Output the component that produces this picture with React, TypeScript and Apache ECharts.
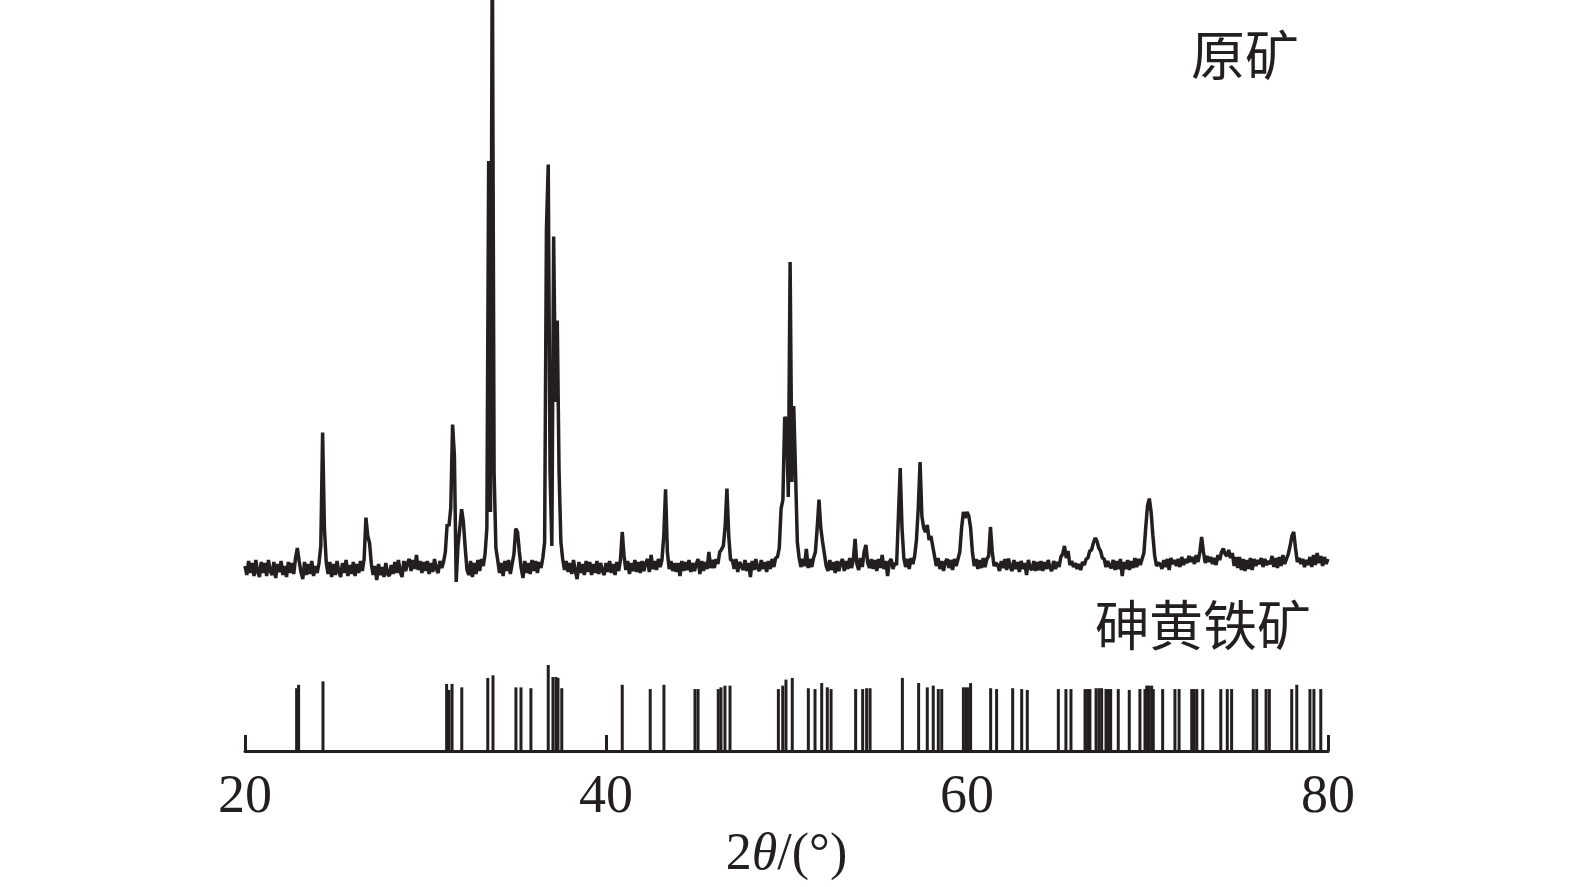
import React, { useEffect, useRef } from "react";
import * as echarts from "echarts";

const INK = "#231f20";

// Measured pattern (原矿), intensity in a.u., sampled every 0.1° from 20.0° to 80.0°
const START_2THETA = 20;
const STEP_2THETA = 0.1;
const sampleIntensity: number[] = [
  230, 185, 255, 195, 245, 180, 260, 200, 175, 250, // 20
  195, 245, 180, 260, 205, 185, 250, 170, 240, 200, // 21
  255, 185, 230, 175, 250, 195, 245, 190, 270, 320, // 22
  255, 200, 165, 250, 185, 240, 190, 255, 180, 230, // 23
  195, 245, 330, 897, 420, 250, 190, 250, 175, 240, // 24
  185, 255, 200, 175, 245, 195, 260, 180, 235, 190, // 25
  250, 180, 240, 195, 255, 205, 265, 472, 380, 345, // 26
  240, 185, 230, 160, 240, 185, 225, 175, 245, 190, // 27
  180, 235, 190, 250, 195, 260, 200, 175, 255, 205, // 28
  245, 265, 205, 260, 215, 285, 210, 255, 195, 250, // 29
  205, 255, 190, 245, 200, 265, 215, 195, 255, 220, // 30
  250, 300, 440, 430, 520, 937, 785, 150, 330, 420, // 31
  514, 450, 320, 210, 185, 255, 175, 245, 190, 260, // 32
  205, 265, 230, 290, 420, 2255, 500, 3400, 700, 320, // 33
  260, 195, 245, 180, 255, 205, 260, 190, 240, 290, // 34
  417, 400, 300, 220, 170, 255, 195, 245, 190, 260, // 35
  205, 255, 195, 250, 220, 270, 350, 1915, 2237, 700, // 36
  330, 1878, 1050, 1458, 700, 350, 265, 210, 255, 200, // 37
  245, 190, 260, 205, 165, 250, 195, 240, 185, 255, // 38
  200, 250, 185, 240, 195, 255, 190, 245, 205, 185, // 39
  245, 200, 255, 195, 240, 185, 250, 205, 260, 400, // 40
  280, 210, 255, 190, 245, 205, 260, 200, 250, 195, // 41
  255, 205, 245, 265, 200, 285, 215, 255, 210, 265, // 42
  225, 260, 380, 613, 300, 215, 255, 205, 245, 200, // 43
  245, 180, 255, 205, 250, 210, 260, 200, 245, 205, // 44
  240, 265, 190, 255, 205, 250, 215, 300, 220, 260, // 45
  220, 265, 240, 300, 313, 330, 425, 617, 380, 260, // 46
  260, 215, 265, 200, 250, 230, 210, 260, 205, 245, // 47
  175, 255, 210, 265, 220, 205, 260, 215, 250, 200, // 48
  255, 215, 265, 225, 270, 275, 320, 517, 560, 975, // 49
  960, 575, 1750, 650, 1030, 700, 350, 270, 225, 265, // 50
  230, 315, 220, 265, 225, 270, 300, 420, 562, 420, // 51
  350, 290, 230, 205, 260, 210, 250, 195, 255, 205, // 52
  245, 265, 205, 255, 215, 270, 220, 260, 365, 240, // 53
  210, 270, 225, 300, 335, 245, 220, 265, 215, 260, // 54
  205, 265, 220, 285, 215, 255, 180, 250, 265, 215, // 55
  245, 235, 480, 720, 420, 270, 225, 265, 215, 270, // 56
  240, 280, 360, 520, 750, 480, 420, 400, 435, 360, // 57
  380, 330, 280, 230, 270, 215, 255, 205, 250, 265, // 58
  220, 260, 210, 265, 230, 265, 300, 420, 500, 470, // 59
  500, 480, 420, 300, 230, 265, 215, 260, 220, 270, // 60
  225, 265, 280, 425, 300, 230, 245, 235, 205, 255, // 61
  220, 265, 210, 267, 225, 205, 260, 215, 250, 200, // 62
  255, 215, 245, 185, 260, 220, 210, 255, 205, 250, // 63
  210, 255, 205, 250, 215, 260, 220, 205, 255, 215, // 64
  250, 225, 275, 290, 330, 270, 305, 235, 255, 225, // 65
  245, 215, 240, 210, 250, 235, 265, 270, 305, 310, // 66
  345, 370, 355, 320, 305, 270, 265, 225, 255, 230, // 67
  220, 260, 210, 255, 215, 265, 180, 250, 215, 260, // 68
  210, 255, 220, 270, 225, 265, 235, 265, 295, 420, // 69
  530, 567, 500, 380, 280, 230, 245, 240, 215, 260, // 70
  225, 265, 210, 270, 240, 260, 230, 265, 225, 275, // 71
  235, 265, 245, 280, 250, 275, 240, 285, 250, 300, // 72
  375, 300, 245, 280, 250, 275, 240, 270, 235, 285, // 73
  260, 300, 317, 290, 280, 310, 270, 295, 230, 275, // 74
  220, 275, 210, 265, 205, 260, 215, 270, 210, 265, // 75
  230, 260, 240, 270, 225, 265, 235, 255, 240, 280, // 76
  225, 270, 220, 275, 230, 285, 240, 265, 290, 330, // 77
  380, 400, 320, 250, 270, 240, 265, 225, 260, 235, // 78
  275, 225, 285, 235, 295, 245, 280, 230, 275, 240, // 79
  265, // 80
];

// Reference pattern (砷黄铁矿) stick positions (2θ) and relative intensities
const refPositions: number[] = [
  22.86, 22.97, 24.32, 31.17, 31.3, 31.47, 32.01, 33.45, 33.74, 35.01, 35.29, 35.84,
  36.8, 37.06, 37.23, 37.34, 37.55, 40.9, 42.45, 43.21, 44.93, 45.1, 46.22, 46.37,
  46.59, 46.87, 49.55, 49.79, 49.97, 50.32, 51.21, 51.58, 51.95, 52.26, 52.47, 53.83,
  54.22, 54.44, 54.63, 56.42, 57.32, 57.8, 58.13, 58.41, 58.6, 59.8, 59.94, 60.07,
  60.2, 61.31, 61.64, 62.53, 63.03, 63.34, 65.06, 65.48, 65.76, 66.54, 66.68, 66.81,
  67.15, 67.31, 67.46, 67.7, 67.84, 67.96, 68.38, 68.99, 69.58, 69.86, 69.96, 70.08,
  70.23, 70.32, 70.84, 71.52, 71.75, 72.45, 72.58, 72.73, 73.06, 74.06, 74.42, 74.66,
  75.86, 76.05, 76.57, 76.75, 77.99, 78.27, 79.0, 79.22, 79.6,
];
const refIntensity: number[] = [
  73, 77, 81, 78, 71, 78, 74, 85, 88, 74, 74, 73,
  100, 86, 86, 85, 73, 77, 72, 77, 72, 72, 72, 74,
  76, 76, 72, 76, 83, 85, 73, 72, 79, 74, 72, 72,
  72, 73, 73, 85, 79, 74, 76, 72, 72, 74, 74, 74,
  79, 73, 72, 73, 72, 71, 72, 72, 72, 72, 72, 72,
  73, 73, 73, 72, 72, 72, 72, 71, 72, 72, 76, 76,
  76, 72, 72, 72, 72, 72, 72, 72, 72, 72, 72, 72,
  72, 72, 72, 72, 72, 77, 72, 72, 72,
];

const sampleLabel = "原矿";
const refLabel = "砷黄铁矿";

export default function App() {
  const ref = useRef<HTMLDivElement>(null);

  useEffect(() => {
    if (!ref.current) return;
    const chart = echarts.init(ref.current, null, { renderer: "svg" });
    const lineData = sampleIntensity.map((v, i) => [
      Number((START_2THETA + i * STEP_2THETA).toFixed(1)),
      v,
    ]);
    const stickData = refPositions.map((p, i) => [p, refIntensity[i]]);
    const serif = "'Liberation Serif', 'Times New Roman', serif";

    chart.setOption({
      animation: false,
      backgroundColor: "#ffffff",
      grid: [
        { left: 245, right: 247, top: 0, height: 612 },
        { left: 245, right: 247, top: 665, height: 86 },
      ],
      xAxis: [
        { gridIndex: 0, type: "value", min: 20, max: 80, show: false },
        {
          gridIndex: 1,
          type: "value",
          min: 20,
          max: 80,
          interval: 20,
          axisLine: { lineStyle: { color: INK, width: 3 } },
          axisTick: { inside: true, length: 16, lineStyle: { color: INK, width: 3 } },
          axisLabel: { fontSize: 54, fontFamily: serif, color: INK, margin: 16 },
          splitLine: { show: false },
          name: "{a|2}{i|θ}{a|/(°)}",
          nameLocation: "middle",
          nameGap: 74,
          nameTextStyle: {
            rich: {
              a: { fontSize: 52, fontFamily: serif, color: INK },
              i: { fontSize: 52, fontFamily: serif, color: INK, fontStyle: "italic" },
            },
          },
        },
      ],
      yAxis: [
        { gridIndex: 0, type: "value", min: 0, max: 3060, show: false },
        { gridIndex: 1, type: "value", min: 0, max: 100, show: false },
      ],
      series: [
        {
          type: "line",
          xAxisIndex: 0,
          yAxisIndex: 0,
          data: lineData,
          showSymbol: false,
          symbol: "none",
          clip: true,
          lineStyle: { color: INK, width: 3.5 },
        },
        {
          type: "custom",
          xAxisIndex: 1,
          yAxisIndex: 1,
          data: stickData,
          renderItem: (params: any, api: any) => {
            const p0 = api.coord([api.value(0), 0]);
            const p1 = api.coord([api.value(0), api.value(1)]);
            return {
              type: "line",
              shape: { x1: p0[0], y1: p0[1], x2: p1[0], y2: p1[1] },
              style: { stroke: INK, lineWidth: 3 },
            };
          },
        },
      ],
      graphic: [
        {
          type: "text",
          x: 1299,
          y: 52,
          style: {
            text: sampleLabel,
            fill: INK,
            fontSize: 54,
            fontFamily: "'Noto Sans CJK SC'",
            align: "right",
            verticalAlign: "middle",
          },
        },
        {
          type: "text",
          x: 1311,
          y: 622,
          style: {
            text: refLabel,
            fill: INK,
            fontSize: 54,
            fontFamily: "'Noto Sans CJK SC'",
            align: "right",
            verticalAlign: "middle",
          },
        },
      ],
    });
    return () => chart.dispose();
  }, []);

  return (
    <div
      ref={ref}
      style={{ position: "fixed", left: 0, top: 0, width: 1575, height: 887 }}
    />
  );
}
